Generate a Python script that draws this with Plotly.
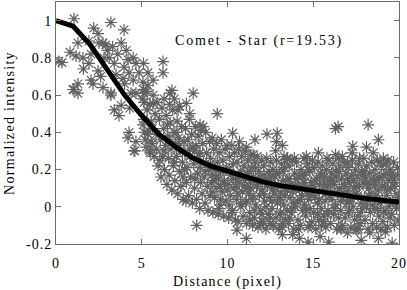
import plotly.graph_objects as go

# ---- fitted profile (black curve) ----
curve_x = [0, 1, 2, 3, 4, 5, 6, 7, 8, 9, 10, 11, 12, 13, 14, 15, 16, 17, 18, 19, 20]
curve_y = [1.0, 0.97, 0.87, 0.74, 0.60, 0.49, 0.39, 0.32, 0.26, 0.22, 0.19, 0.16,
           0.135, 0.115, 0.10, 0.085, 0.07, 0.06, 0.045, 0.035, 0.025]

# ---- sparse measured points (upper left / outliers) ----
sparse_x = [1.05, 3.2, 3.97, 2.2, 2.45, 0.17, 0.35, 0.82, 1.28, 1.17, 1.57, 1.92, 2.04, 1.92,
            2.45, 2.04, 2.16, 1.28, 0.99, 2.74, 3.2, 2.9, 3.0, 2.8, 3.3, 3.8, 3.6, 4.1, 4.2,
            3.97, 4.5, 4.66, 4.84, 4.26, 5.1, 5.36, 3.9, 4.5, 5.07, 4.37, 5.1, 5.66, 5.36,
            3.4, 3.1, 2.5, 2.74, 1.05, 1.28, 3.2, 3.8, 3.4, 3.67, 4.3, 4.26, 4.2, 4.66, 4.55,
            4.6, 5.13, 5.66, 5.07, 5.36, 5.25, 5.54, 5.5, 4.66, 5.13, 6.65, 8.0, 6.24, 6.24,
            6.76, 7.6, 9.4, 10.3, 11.6, 12.3, 12.9, 8.4, 7.8, 10.7, 11.1, 11.5, 12.85, 13.2,
            12.8, 16.3, 16.45, 18.2, 18.8, 17.3, 18.1, 17.26, 18.5, 13.5, 13.9, 15.3, 16.3,
            16.7, 17.0, 17.7, 19.36, 18.9, 2.6, 3.5, 4.0, 1.6, 6.9, 7.2, 13.3, 14.6, 15.8]
sparse_y = [1.01, 0.99, 0.95, 0.96, 0.93, 0.78, 0.775, 0.83, 0.88, 0.81, 0.80, 0.89, 0.82,
            0.77, 0.73, 0.68, 0.66, 0.66, 0.63, 0.64, 0.60, 0.87, 0.84, 0.80, 0.86, 0.88,
            0.82, 0.84, 0.79, 0.75, 0.80, 0.77, 0.72, 0.72, 0.77, 0.72, 0.69, 0.68, 0.67,
            0.61, 0.63, 0.68, 0.65, 0.77, 0.80, 0.88, 0.88, 0.63, 0.61, 0.61, 0.545, 0.52,
            0.49, 0.53, 0.40, 0.37, 0.35, 0.30, 0.30, 0.56, 0.555, 0.44, 0.39, 0.32, 0.35,
            0.29, 0.61, 0.61, 0.61, 0.61, 0.78, 0.72, 0.625, 0.555, 0.50, 0.395, 0.36, 0.39,
            0.395, 0.44, 0.50, 0.35, 0.32, 0.28, 0.35, 0.33, 0.30, 0.42, 0.43, 0.44, 0.36,
            0.325, 0.32, 0.29, 0.29, 0.255, 0.26, 0.29, 0.28, 0.27, 0.235, 0.26, 0.25, 0.24,
            0.70, 0.71, 0.66, 0.74, 0.58, 0.54, 0.27, 0.27, 0.26]

# ---- lower outliers ----
low_x = [8.2, 11.1, 10.55, 13.2, 13.8, 14.2, 14.7, 15.4, 15.9, 17.0, 17.8, 18.8, 19.6,
         12.1, 12.65, 13.2, 14.8, 16.6, 17.55, 18.3, 19.2, 12.5, 11.9, 11.3]
low_y = [-0.10, -0.17, -0.125, -0.15, -0.15, -0.17, -0.19, -0.16, -0.19, -0.14, -0.18,
         -0.17, -0.195, -0.09, -0.10, -0.09, -0.10, -0.11, -0.125, -0.14, -0.135, -0.06,
         -0.09, -0.07]

# ---- dense cloud (x, y) read region by region ----
cloud_a = [
    (5.05, 0.58), (5.12, 0.47), (5.2, 0.36), (5.31, 0.52), (5.38, 0.41), (5.45, 0.30), (5.28, 0.62), (5.48, 0.55), (5.15, 0.40),
    (5.55, 0.46), (5.6, 0.34), (5.66, 0.60), (5.72, 0.27), (5.78, 0.50), (5.83, 0.39), (5.9, 0.56), (5.95, 0.22), (5.87, 0.31), (5.62, 0.42),
    (6.03, 0.47), (6.08, 0.36), (6.12, 0.16), (6.18, 0.53), (6.22, 0.27), (6.28, 0.42), (6.33, 0.20), (6.38, 0.33), (6.42, 0.49), (6.47, 0.12), (6.05, 0.25), (6.3, 0.58),
    (6.52, 0.38), (6.57, 0.26), (6.6, 0.17), (6.66, 0.45), (6.71, 0.31), (6.75, 0.09), (6.8, 0.52), (6.84, 0.22), (6.88, 0.40), (6.93, 0.14), (6.97, 0.34), (6.62, 0.55),
    (7.02, 0.27), (7.06, 0.46), (7.1, 0.07), (7.15, 0.37), (7.19, 0.19), (7.24, 0.30), (7.28, 0.11), (7.33, 0.43), (7.37, 0.24), (7.42, 0.04), (7.46, 0.35), (7.12, 0.52), (7.4, 0.16),
    (7.52, 0.29), (7.55, 0.42), (7.6, 0.13), (7.64, 0.21), (7.69, 0.36), (7.73, 0.06), (7.78, 0.47), (7.82, 0.27), (7.86, 0.16), (7.91, 0.39), (7.95, 0.02), (7.58, 0.03), (7.98, 0.32),
    (6.3, 0.30), (6.6, 0.36), (6.9, 0.24), (7.2, 0.33), (7.5, 0.20), (7.8, 0.31), (8.1, 0.15), (8.4, 0.29), (8.7, 0.19), (9.0, 0.23), (7.0, 0.40), (6.5, 0.44),
]
cloud_b = [
    (8.03, 0.23), (8.07, 0.10), (8.12, 0.43), (8.16, 0.33), (8.2, 0.04), (8.25, 0.18), (8.29, 0.38), (8.34, 0.27), (8.38, -0.01), (8.43, 0.13), (8.47, 0.41), (8.09, 0.30), (8.4, 0.21),
    (8.52, 0.07), (8.56, 0.34), (8.6, 0.24), (8.64, 0.16), (8.69, 0.02), (8.73, 0.40), (8.78, 0.29), (8.82, 0.11), (8.86, -0.02), (8.91, 0.20), (8.95, 0.35), (8.58, 0.43), (8.98, 0.06),
    (9.02, 0.26), (9.06, 0.13), (9.11, 0.37), (9.15, -0.03), (9.19, 0.31), (9.24, 0.05), (9.28, 0.20), (9.33, 0.10), (9.37, 0.34), (9.41, 0.24), (9.46, -0.04), (9.09, 0.17), (9.48, 0.15),
    (9.52, 0.29), (9.56, 0.01), (9.6, 0.19), (9.64, 0.36), (9.69, 0.08), (9.73, 0.25), (9.78, -0.05), (9.82, 0.14), (9.86, 0.31), (9.91, 0.03), (9.95, 0.21), (9.58, 0.11), (9.98, 0.33),
    (10.03, 0.12), (10.07, -0.06), (10.11, 0.27), (10.16, 0.06), (10.2, 0.17), (10.25, 0.33), (10.29, -0.02), (10.33, 0.23), (10.38, 0.10), (10.42, 0.29), (10.46, -0.07), (10.09, 0.20), (10.48, 0.15),
    (10.52, 0.04), (10.56, 0.24), (10.61, -0.08), (10.65, 0.31), (10.69, 0.13), (10.74, 0.19), (10.78, 0.00), (10.83, 0.27), (10.87, 0.08), (10.91, -0.05), (10.96, 0.22), (10.58, 0.16), (10.99, 0.11),
]
cloud_c = [
    (11.03, 0.30), (11.07, 0.02), (11.11, -0.09), (11.16, 0.18), (11.2, 0.25), (11.24, 0.07), (11.29, -0.03), (11.33, 0.13), (11.37, 0.28), (11.42, 0.21), (11.46, -0.10), (11.13, 0.10), (11.48, 0.04),
    (11.52, 0.16), (11.56, -0.06), (11.6, 0.24), (11.65, 0.01), (11.69, 0.11), (11.73, 0.27), (11.78, -0.11), (11.82, 0.19), (11.86, 0.06), (11.91, -0.02), (11.95, 0.14), (11.63, 0.21), (11.98, 0.25),
    (12.03, 0.09), (12.07, -0.08), (12.11, 0.22), (12.16, 0.03), (12.2, 0.15), (12.24, -0.12), (12.29, 0.26), (12.33, 0.11), (12.37, -0.04), (12.42, 0.19), (12.46, 0.05), (12.14, 0.17), (12.48, -0.09),
    (12.52, 0.24), (12.56, 0.13), (12.6, -0.01), (12.65, 0.20), (12.69, -0.10), (12.73, 0.07), (12.78, 0.16), (12.82, -0.06), (12.86, 0.25), (12.91, 0.02), (12.95, 0.12), (12.63, 0.09), (12.98, -0.12),
    (13.02, 0.18), (13.06, -0.04), (13.11, 0.08), (13.15, 0.23), (13.19, -0.11), (13.24, 0.14), (13.28, 0.01), (13.33, 0.21), (13.37, -0.07), (13.41, 0.10), (13.46, 0.26), (13.09, 0.04), (13.48, -0.02),
    (13.52, 0.15), (13.56, -0.09), (13.6, 0.22), (13.65, 0.05), (13.69, 0.12), (13.73, -0.03), (13.78, 0.25), (13.82, 0.08), (13.86, -0.12), (13.91, 0.18), (13.95, 0.00), (13.63, -0.06), (13.98, 0.11),
    (14.03, 0.24), (14.07, 0.03), (14.11, -0.07), (14.16, 0.16), (14.2, 0.09), (14.24, -0.10), (14.29, 0.20), (14.33, 0.06), (14.37, -0.02), (14.42, 0.13), (14.46, 0.26), (14.14, -0.12), (14.48, 0.01),
    (14.52, 0.17), (14.56, -0.05), (14.6, 0.10), (14.65, 0.23), (14.69, -0.11), (14.73, 0.04), (14.78, 0.19), (14.82, -0.01), (14.86, 0.13), (14.91, -0.08), (14.95, 0.25), (14.63, 0.07), (14.98, 0.11),
    (15.02, -0.03), (15.06, 0.21), (15.11, 0.08), (15.15, -0.12), (15.19, 0.15), (15.24, 0.02), (15.28, 0.24), (15.33, -0.07), (15.37, 0.12), (15.41, 0.18), (15.46, -0.01), (15.09, 0.05), (15.48, -0.10),
]
cloud_d = [
    (15.52, 0.22), (15.56, 0.09), (15.6, -0.05), (15.65, 0.16), (15.69, 0.03), (15.73, -0.11), (15.78, 0.20), (15.82, 0.11), (15.86, -0.02), (15.91, 0.25), (15.95, 0.06), (15.63, -0.08), (15.98, 0.14),
    (16.02, -0.09), (16.06, 0.18), (16.11, 0.04), (16.15, 0.23), (16.19, -0.04), (16.24, 0.12), (16.28, 0.01), (16.33, 0.19), (16.37, -0.12), (16.41, 0.08), (16.46, 0.26), (16.09, 0.14), (16.48, -0.06),
    (16.52, 0.10), (16.56, 0.22), (16.6, -0.02), (16.65, 0.15), (16.69, -0.10), (16.73, 0.05), (16.78, 0.24), (16.82, 0.12), (16.86, -0.06), (16.91, 0.18), (16.95, 0.02), (16.63, -0.12), (16.98, 0.08),
    (17.02, 0.21), (17.06, -0.03), (17.11, 0.13), (17.15, 0.06), (17.19, -0.11), (17.24, 0.17), (17.28, 0.25), (17.33, 0.00), (17.37, 0.10), (17.41, -0.07), (17.46, 0.20), (17.09, 0.03), (17.48, -0.12),
    (17.52, 0.07), (17.56, 0.16), (17.6, -0.05), (17.65, 0.23), (17.69, 0.11), (17.73, -0.09), (17.78, 0.02), (17.82, 0.19), (17.86, -0.01), (17.91, 0.13), (17.95, 0.26), (17.63, -0.12), (17.98, 0.05),
    (18.02, -0.07), (18.06, 0.15), (18.11, 0.22), (18.15, 0.03), (18.19, -0.12), (18.24, 0.10), (18.28, 0.18), (18.33, -0.03), (18.37, 0.07), (18.41, 0.24), (18.46, -0.09), (18.09, 0.12), (18.48, 0.01),
    (18.52, 0.14), (18.56, -0.01), (18.6, 0.20), (18.65, 0.06), (18.69, -0.11), (18.73, 0.25), (18.78, 0.09), (18.82, -0.05), (18.86, 0.16), (18.91, 0.02), (18.95, -0.12), (18.63, 0.12), (18.98, 0.22),
    (19.02, 0.04), (19.06, -0.08), (19.11, 0.17), (19.15, 0.11), (19.19, -0.02), (19.24, 0.23), (19.28, 0.06), (19.33, -0.11), (19.37, 0.14), (19.41, 0.00), (19.46, 0.20), (19.09, 0.26), (19.48, -0.06),
    (19.52, 0.10), (19.56, -0.04), (19.6, 0.18), (19.65, 0.03), (19.69, 0.24), (19.73, -0.10), (19.78, 0.13), (19.82, 0.07), (19.86, -0.01), (19.91, 0.21), (19.95, -0.07), (19.63, 0.15), (19.98, 0.05),
]
# darker core of the cloud
cloud_core = [
    (9.1, 0.08), (9.35, 0.16), (9.6, 0.04), (9.85, 0.12), (10.1, 0.01), (10.35, 0.15), (10.6, 0.07), (10.85, 0.17),
    (11.1, 0.03), (11.35, 0.10), (11.6, -0.02), (11.85, 0.16), (12.1, 0.07), (12.35, 0.13), (12.6, 0.03), (12.85, 0.18),
    (13.1, -0.03), (13.35, 0.06), (13.6, 0.15), (13.85, 0.02), (14.1, 0.11), (14.35, 0.17), (14.6, -0.02), (14.85, 0.06),
    (15.1, 0.14), (15.35, 0.04), (15.6, 0.12), (15.85, -0.04), (16.1, 0.08), (16.35, 0.16), (16.6, 0.03), (16.85, 0.11),
    (17.1, -0.02), (17.35, 0.14), (17.6, 0.06), (17.85, 0.17), (18.1, 0.00), (18.35, 0.12), (18.6, 0.05), (18.85, 0.15),
    (19.1, -0.03), (19.35, 0.09), (19.6, 0.16), (19.85, 0.01),
    (9.2, 0.14), (9.5, -0.01), (9.75, 0.19), (10.0, 0.09), (10.25, -0.03), (10.5, 0.11), (10.75, 0.02), (11.0, 0.14),
    (11.25, 0.19), (11.5, 0.06), (11.75, 0.12), (12.0, -0.04), (12.25, 0.00), (12.5, 0.16), (12.75, 0.10), (13.0, 0.05),
    (13.25, 0.19), (13.5, 0.09), (13.75, -0.01), (14.0, 0.15), (14.25, 0.04), (14.5, 0.13), (14.75, 0.20), (15.0, 0.09),
    (15.25, -0.04), (15.5, 0.17), (15.75, 0.07), (16.0, 0.13), (16.25, -0.01), (16.5, 0.19), (16.75, 0.07), (17.0, 0.15),
    (17.25, 0.04), (17.5, 0.11), (17.75, -0.03), (18.0, 0.19), (18.25, 0.06), (18.5, 0.16), (18.75, -0.01), (19.0, 0.11),
    (19.25, 0.18), (19.5, 0.02), (19.75, 0.11), (19.95, 0.17),
]

x_ticks = [0, 5, 10, 15, 20]
y_ticks = [-0.2, 0, 0.2, 0.4, 0.6, 0.8, 1]
y_tick_text = ["-0.2", "0", "0.2", "0.4", "0.6", "0.8", "1"]

all_x = list(sparse_x) + list(low_x)
all_y = list(sparse_y) + list(low_y)
for seg in (cloud_a, cloud_b, cloud_c, cloud_d, cloud_core):
    for px, py in seg:
        all_x.append(px)
        all_y.append(py)

FONT = "Liberation Serif, Times New Roman, serif"
GRAY = "#606060"
AX = "#6a6a6a"

fig = go.Figure()
fig.add_trace(go.Scatter(
    x=all_x, y=all_y, mode="markers",
    marker=dict(symbol="asterisk-open", size=10, color=GRAY,
                line=dict(color=GRAY, width=1.2)),
    showlegend=False, hoverinfo="skip"))
fig.add_trace(go.Scatter(
    x=curve_x, y=curve_y, mode="lines",
    line=dict(color="black", width=5), showlegend=False, hoverinfo="skip"))

def sp(t, ls):
    return '<span style="letter-spacing:%spx">%s</span>' % (ls, t)

fig.add_annotation(x=11.85, y=0.893, xref="x", yref="y", showarrow=False,
                   text=sp("Comet - Star (r=19.53)", 1.8),
                   font=dict(family=FONT, size=14, color="black"))

axis_common = dict(showline=True, linecolor=AX, linewidth=1, mirror="ticks",
                   ticks="inside", ticklen=5, tickcolor=AX, showgrid=False,
                   zeroline=False, automargin=False,
                   tickfont=dict(family=FONT, size=14, color="black"))

fig.update_xaxes(range=[0, 20], tickvals=x_ticks,
                 ticktext=[sp(str(v), 1) for v in x_ticks],
                 ticklabelstandoff=6,
                 title=dict(text=sp("Distance (pixel)", 1.2),
                            font=dict(family=FONT, size=14, color="black"), standoff=13),
                 **axis_common)
fig.update_yaxes(range=[-0.2, 1.1], tickvals=y_ticks,
                 ticktext=[sp(t, 1) for t in y_tick_text],
                 title=dict(text=sp("Normalized intensity", 1.3),
                            font=dict(family=FONT, size=14, color="black"), standoff=8),
                 **axis_common)

fig.update_layout(width=407, height=290, margin=dict(l=56, r=8, t=2, b=46),
                  plot_bgcolor="white", paper_bgcolor="white")

fig.write_html("out.html", config={"displayModeBar": False},
               post_script="document.body.style.margin='0';document.body.style.padding='0';")
